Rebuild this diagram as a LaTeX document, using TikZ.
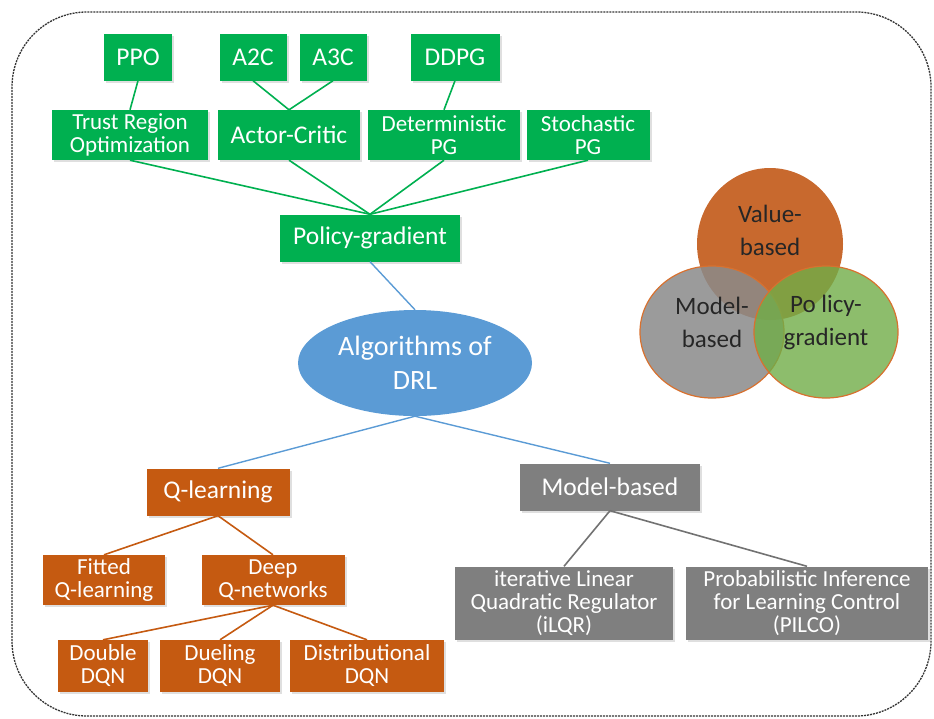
\documentclass[tikz,border=0pt]{standalone}
\usepackage{fontspec}
\setmainfont{Carlito}
\usetikzlibrary{shapes.geometric,shadows}
\definecolor{pgreen}{HTML}{00B050}
\definecolor{porange}{HTML}{C55A11}
\definecolor{pgray}{HTML}{7F7F7F}
\definecolor{pblue}{HTML}{5B9BD5}
\definecolor{vorange}{HTML}{C8692E}
\definecolor{vgray}{HTML}{8A8A8A}
\definecolor{vgreen}{HTML}{70AD47}
\definecolor{vedge}{HTML}{D8712F}
\tikzset{
  box/.style={rectangle, inner sep=0pt, align=center, text=white,
    font=\fontsize{23}{23}\selectfont,
    drop shadow={opacity=0.25, shadow xshift=2pt, shadow yshift=-2pt}},
  big/.style={font=\fontsize{25.5}{26}\selectfont},
  gbox/.style={box, fill=pgreen},
  obox/.style={box, fill=porange},
  ybox/.style={box, fill=pgray},
  gline/.style={draw=pgreen, line width=1.6pt},
  oline/.style={draw=porange, line width=1.6pt},
  yline/.style={draw=pgray!90!black, line width=1.6pt},
  bline/.style={draw=pblue, line width=1.4pt},
  venntext/.style={text=black!85, align=center, font=\fontsize{25}{33}\selectfont}
}
\begin{document}
\begin{tikzpicture}[x=1pt,y=-1pt]
\useasboundingbox (0,0) rectangle (934,718);
\draw[black!80, line width=1.3pt, dash pattern=on 2pt off 1pt, rounded corners=75pt] (12,12) rectangle (931,716);

% top level
\node[gbox, big, minimum width=68, minimum height=47] (ppo) at (138,57) {PPO};
\node[gbox, big, minimum width=67, minimum height=47] (a2c) at (253,57) {A2C};
\node[gbox, big, minimum width=67, minimum height=47] (a3c) at (333,57) {A3C};
\node[gbox, big, minimum width=89, minimum height=47] (ddpg) at (455,57) {DDPG};

\node[gbox, minimum width=156, minimum height=50] (tro) at (130,135) {Trust Region\\Optimization};
\node[gbox, big, minimum width=142, minimum height=50] (ac) at (289,135) {Actor-Critic};
\node[gbox, minimum width=152, minimum height=50] (dpg) at (444,135) {Deterministic\\PG};
\node[gbox, minimum width=123, minimum height=50] (spg) at (588,135) {Stochastic\\PG};

\node[gbox, big, minimum width=180, minimum height=47] (pg) at (370,238) {Policy-gradient};

\node[ellipse, fill=pblue, text=white, minimum width=234, minimum height=106, inner sep=0pt, align=center,
  font=\fontsize{28}{34}\selectfont] (drl) at (415,363) {Algorithms of\\DRL};

\node[obox, big, minimum width=143, minimum height=47] (ql) at (218,492) {Q-learning};
\node[ybox, big, minimum width=180, minimum height=47] (mb) at (610,487) {Model-based};

\node[obox, minimum width=122, minimum height=50] (fq) at (104,580) {Fitted\\Q-learning};
\node[obox, minimum width=143, minimum height=50] (dq) at (273,580) {Deep\\Q-networks};

\node[obox, minimum width=90, minimum height=52] (dd) at (103,666) {Double\\DQN};
\node[obox, minimum width=120, minimum height=52] (du) at (220,666) {Dueling\\DQN};
\node[obox, minimum width=154, minimum height=52] (di) at (367,666) {Distributional\\DQN};

\node[ybox, minimum width=218, minimum height=73] (ilqr) at (564,603) {iterative Linear\\Quadratic Regulator\\(iLQR)};
\node[ybox, minimum width=242, minimum height=73] (pilco) at (807,603) {Probabilistic Inference\\for Learning Control\\(PILCO)};

% connectors
\draw[gline] (ppo.south) -- (tro.north);
\draw[gline] (a2c.south) -- (ac.north);
\draw[gline] (a3c.south) -- (ac.north);
\draw[gline] (ddpg.south) -- (dpg.north);
\draw[gline] (tro.south) -- (pg.north);
\draw[gline] (ac.south) -- (pg.north);
\draw[gline] (dpg.south) -- (pg.north);
\draw[gline] (spg.south) -- (pg.north);
\draw[bline] (pg.south) -- (drl.north);
\draw[bline] (drl.south) -- (ql.north);
\draw[bline] (drl.south) -- (mb.north);
\draw[oline] (ql.south) -- (fq.north);
\draw[oline] (ql.south) -- (dq.north);
\draw[oline] (dq.south) -- (dd.north);
\draw[oline] (dq.south) -- (du.north);
\draw[oline] (dq.south) -- (di.north);
\draw[yline] (mb.south) -- (ilqr.north);
\draw[yline] (mb.south) -- (pilco.north);

% Venn
\fill[vorange] (770,244) ellipse [x radius=73pt, y radius=76pt];
\filldraw[fill=vgray, fill opacity=0.85, draw=vedge, line width=1.2pt] (712,332) ellipse [x radius=72pt, y radius=66pt];
\filldraw[fill=vgreen, fill opacity=0.8, draw=vedge, line width=1.2pt] (826,332) ellipse [x radius=72pt, y radius=66pt];
\node[venntext] (vt) at (770,230) {Value-\\based};
\node[venntext] (mt) at (712,322) {Model-\\based};
\node[venntext] (pt) at (826,322) {Po licy-\\gradient};
\end{tikzpicture}
\end{document}
